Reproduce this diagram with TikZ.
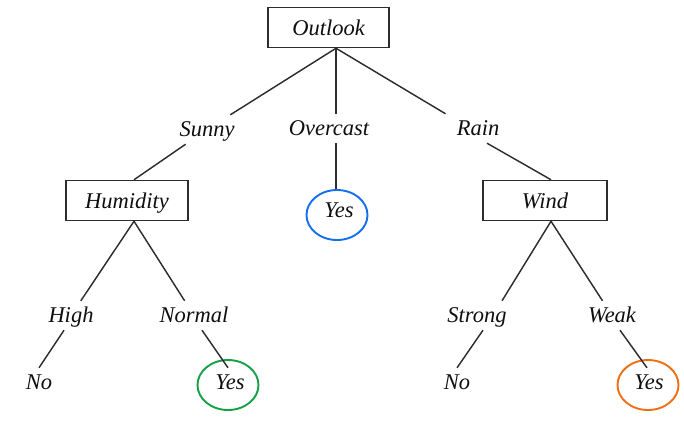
\documentclass[tikz,border=0pt]{standalone}
\usepackage{fontspec}
\setmainfont{Liberation Serif}
\usetikzlibrary{shapes.geometric,calc}
\definecolor{ink}{RGB}{15,15,15}
\definecolor{lineg}{RGB}{45,45,45}
\definecolor{cblue}{RGB}{20,110,240}
\definecolor{cgreen}{RGB}{20,160,70}
\definecolor{corange}{RGB}{240,110,20}
\begin{document}
\begin{tikzpicture}[x=1pt,y=-1pt,
  font=\fontsize{22.5}{27}\selectfont\itshape,
  attr/.style={draw=lineg, line width=1.5pt, minimum height=40pt, text height=15pt, text depth=0pt, inner sep=0pt, text=ink},
  lbl/.style={anchor=base, inner xsep=3pt, inner ysep=6pt, text height=15pt, text depth=2pt, text=ink},
  ring/.style={ellipse, draw=#1, line width=1.9pt, minimum width=61pt, minimum height=50pt, inner sep=0pt},
  conn/.style={draw=lineg, line width=1.45pt}]
\useasboundingbox (0,0) rectangle (684,432);
% attribute boxes
\node[attr, minimum width=121pt] (outlook) at (328.5,27.5) {Outlook};
\node[attr, minimum width=122pt] (humidity) at (127,200.5) {Humidity};
\node[attr, minimum width=124pt] (wind) at (545,200.5) {Wind};
% branch labels
\node[lbl] (sunny) at (207,136) {Sunny};
\node[lbl] (overcast) at (329,135) {Overcast};
\node[lbl] (rain) at (478,135) {Rain};
\node[lbl] (high) at (71,322) {High};
\node[lbl] (normal) at (194,322) {Normal};
\node[lbl] (strong) at (477,322) {Strong};
\node[lbl] (weak) at (612,322) {Weak};
% leaves
\node[lbl] (no1) at (39,389) {No};
\node[lbl] (yes1) at (230,389) {Yes};
\node[lbl] (no2) at (457,389) {No};
\node[lbl] (yes2) at (649,389) {Yes};
\node[lbl] (yes0) at (339,217) {Yes};
\node[ring=cblue] (c0) at (337,215) {};
\node[ring=cgreen] (c1) at (228,385) {};
\node[ring=corange] (c2) at (648,385) {};
% junctions
\coordinate (oj) at ($(outlook.south)+(7.5,0)$);
\coordinate (hjt) at ($(humidity.north)+(7,0)$);
\coordinate (hjb) at ($(humidity.south)+(7,0)$);
\coordinate (wjt) at ($(wind.north)+(6,0)$);
\coordinate (wjb) at ($(wind.south)+(6,0)$);
% connectors
\draw[conn] (oj) -- (sunny);
\draw[conn] (oj) -- (oj |- overcast.north);
\draw[conn] (oj) -- ($(rain.north west)+(-8,0)$);
\draw[conn] (sunny) -- (hjt);
\draw[conn] (oj |- overcast.south) -- (oj |- c0.north);
\draw[conn] ($(rain.south)+(9,0)$) -- (wjt);
\draw[conn] (hjb) -- (high);
\draw[conn] (hjb) -- (normal);
\draw[conn] (wjb) -- ($(strong.north)+(25,0)$);
\draw[conn] (wjb) -- (weak);
\draw[conn] ($(high.south)+(-7,0)$) -- (no1.north);
\draw[conn] ($(normal.south)+(8,0)$) -- ($(yes1.north)+(-2,0)$);
\draw[conn] ($(strong.south)+(6,0)$) -- (no2.north);
\draw[conn] ($(weak.south)+(8,0)$) -- ($(yes2.north)+(-2,0)$);
\end{tikzpicture}
\end{document}
